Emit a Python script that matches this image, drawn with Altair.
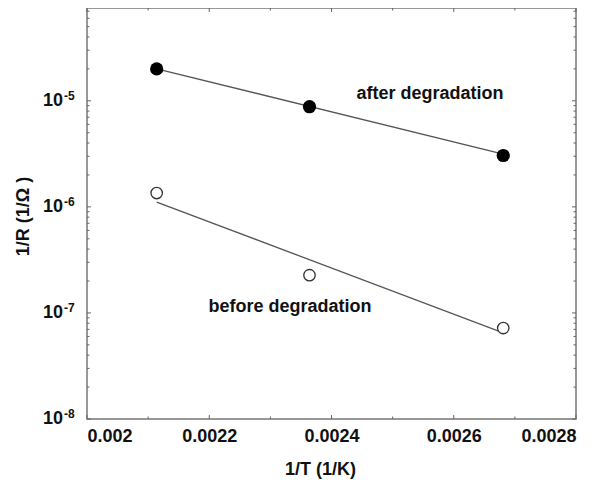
import altair as alt
import pandas as pd

# ---- data ----
inv_T = [0.002114, 0.002364, 0.002681]
after_vals = [2.0e-5, 8.8e-6, 3.05e-6]
before_vals = [1.35e-6, 2.27e-7, 7.2e-8]

fit_x = [0.002114, 0.002681]
after_fit = [2.0e-5, 3.15e-6]
before_fit = [1.11e-6, 6.5e-8]

x_major = [0.002, 0.0022, 0.0024, 0.0026, 0.0028]
x_minor = [0.0021, 0.0023, 0.0025, 0.0027]
y_decades = [1e-8, 1e-7, 1e-6, 1e-5]
y_exponents = ["-8", "-7", "-6", "-5"]
y_minor = [m * 10.0 ** e for e in range(-8, -4) for m in range(2, 10) if m * 10.0 ** e < 7.5e-5]

ann_text = ["after degradation", "before degradation"]
ann_x = [0.002561, 0.002332]
ann_y = [1.16e-5, 1.14e-7]

W, H = 489, 411
FONT = "Liberation Sans"
FS = 18

xs = alt.Scale(domain=[0.002, 0.0028], nice=False, zero=False)
ys = alt.Scale(type="log", domain=[1e-8, 7.5e-5], nice=False)

x_axis = alt.Axis(
    values=x_major, format=".4~f", grid=False, ticks=False, domain=False,
    labelFont=FONT, labelFontWeight="bold", labelFontSize=FS, labelColor="#111",
    labelPadding=8, labelFlush=True,
    title="1/T (1/K)", titleFont=FONT, titleFontWeight="bold", titleFontSize=FS,
    titleColor="#111", titleX=233, titleY=41,
)
y_axis = alt.Axis(
    labels=False, grid=False, ticks=False, domain=False,
    title="1/R (1/Ω )", titleFont=FONT, titleFontWeight="bold", titleFontSize=FS,
    titleColor="#111", titleX=-55, titleY=208,
)

def X(f):
    return alt.X(f, type="quantitative", scale=xs, axis=x_axis)

def Y(f):
    return alt.Y(f, type="quantitative", scale=ys, axis=y_axis)

pts = pd.DataFrame({"x": inv_T, "after": after_vals, "before": before_vals})
fits = pd.DataFrame({"x": fit_x, "after": after_fit, "before": before_fit})

after_line = alt.Chart(fits).mark_line(color="#555", strokeWidth=1.3).encode(x=X("x"), y=Y("after"))
before_line = alt.Chart(fits).mark_line(color="#555", strokeWidth=1.3).encode(x=X("x"), y=Y("before"))

after_pts = alt.Chart(pts).mark_point(shape="circle", filled=True, color="black", size=175, opacity=1).encode(
    x=X("x"), y=Y("after"))
before_pts = alt.Chart(pts).mark_point(shape="circle", filled=True, fill="white", stroke="#333",
                                       strokeWidth=1.3, size=130, opacity=1).encode(x=X("x"), y=Y("before"))

ann = pd.DataFrame({"t": ann_text, "x": ann_x, "y": ann_y})
ann_layer = alt.Chart(ann).mark_text(font=FONT, fontWeight="bold", fontSize=FS, color="#111").encode(
    x=X("x"), y=Y("y"), text="t:N")

# tick marks (inside, on all four sides)
xM = pd.DataFrame({"v": x_major})
xm = pd.DataFrame({"v": x_minor})
yM = pd.DataFrame({"v": y_decades, "e": y_exponents})
ym = pd.DataFrame({"v": y_minor})
TC = "#666"
ticks = [
    alt.Chart(xM).mark_rule(color=TC, strokeWidth=1).encode(x=X("v"), y=alt.value(H), y2=alt.value(H - 4)),
    alt.Chart(xM).mark_rule(color=TC, strokeWidth=1).encode(x=X("v"), y=alt.value(0), y2=alt.value(4)),
    alt.Chart(xm).mark_rule(color=TC, strokeWidth=1).encode(x=X("v"), y=alt.value(H), y2=alt.value(H - 2.5)),
    alt.Chart(xm).mark_rule(color=TC, strokeWidth=1).encode(x=X("v"), y=alt.value(0), y2=alt.value(2.5)),
    alt.Chart(yM).mark_rule(color=TC, strokeWidth=1).encode(y=Y("v"), x=alt.value(0), x2=alt.value(4)),
    alt.Chart(yM).mark_rule(color=TC, strokeWidth=1).encode(y=Y("v"), x=alt.value(W), x2=alt.value(W - 4)),
    alt.Chart(ym).mark_rule(color=TC, strokeWidth=1).encode(y=Y("v"), x=alt.value(0), x2=alt.value(2.5)),
    alt.Chart(ym).mark_rule(color=TC, strokeWidth=1).encode(y=Y("v"), x=alt.value(W), x2=alt.value(W - 2.5)),
]

# y tick labels: "10" with superscript exponent
ylab_base = alt.Chart(yM).mark_text(font=FONT, fontWeight="bold", fontSize=FS, align="right",
                                    baseline="middle", color="#111").encode(
    y=Y("v"), x=alt.value(-24), text=alt.value("10"))
ylab_exp = alt.Chart(yM).mark_text(font=FONT, fontWeight="bold", fontSize=12, align="left",
                                   baseline="middle", dy=-5, color="#111").encode(
    y=Y("v"), x=alt.value(-23), text="e:N")

chart = alt.layer(
    *ticks, after_line, before_line, after_pts, before_pts, ann_layer, ylab_base, ylab_exp
).properties(
    width=W, height=H,
    autosize=alt.AutoSizeParams(type="none"),
    padding={"left": 79, "top": 0, "right": 20, "bottom": 65},
).configure_view(stroke="#777", strokeWidth=1.5)

chart.save("out.html", embed_options={"renderer": "svg", "actions": False})
